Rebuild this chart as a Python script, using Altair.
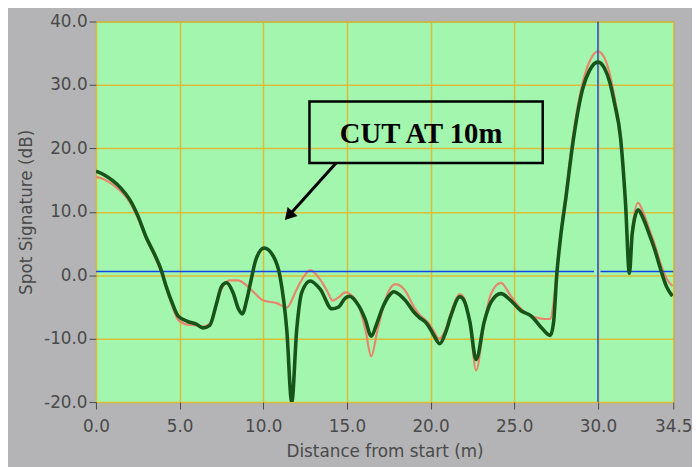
import altair as alt
import pandas as pd

# ---- data ----
x_dark = [0.0, 0.5, 1.0, 1.5, 2.0, 2.5, 3.0, 3.5, 3.9, 4.2, 4.5, 4.9, 5.5, 6.0, 6.4, 6.8,
          7.2, 7.5, 7.8, 8.2, 8.5, 8.75, 9.0, 9.25, 9.55, 10.05, 10.6, 11.0, 11.4, 11.7,
          12.0, 12.3, 12.8, 13.4, 14.1, 14.5, 14.9, 15.15, 15.7, 16.1, 16.45, 16.8, 17.1,
          17.5, 17.8, 18.2, 18.5, 19.0, 19.3, 19.8, 20.2, 20.55, 20.9, 21.2, 21.75, 22.0,
          22.35, 22.72, 23.2, 23.6, 24.2, 24.8, 25.4, 26.0, 26.6, 27.15, 27.35, 27.55,
          27.75, 28.1, 28.5, 29.1, 29.5, 30.0, 30.4, 30.7, 31.0, 31.35, 31.65, 31.88,
          32.05, 32.4, 32.7, 33.05, 33.4, 33.75, 34.1, 34.45]
y_dark = [16.4, 15.8, 14.9, 13.7, 12.0, 9.4, 6.0, 3.3, 0.8, -1.8, -4.0, -6.4, -7.3, -7.7,
          -8.3, -7.9, -4.5, -1.8, -1.2, -2.8, -5.2, -6.1, -4.0, -1.0, 2.4, 4.3, 3.0, -0.2,
          -8.5, -20.0, -8.5, -2.7, -0.9, -2.2, -5.3, -5.0, -3.6, -3.3, -4.8, -7.0, -9.6,
          -7.5, -5.3, -3.3, -2.6, -3.2, -4.0, -5.8, -6.6, -7.7, -9.5, -10.8, -9.0, -6.5,
          -3.4, -4.0, -7.4, -13.3, -7.4, -4.3, -2.9, -4.0, -5.6, -6.4, -8.2, -9.5, -7.4,
          0.4, 5.6, 12.5, 20.8, 29.5, 32.3, 33.6, 32.6, 30.5, 27.0, 21.7, 11.3, 0.3, 6.6,
          10.3, 9.0, 6.6, 4.0, 0.9, -1.8, -3.3]

x_red = [0.0, 0.5, 1.0, 1.5, 2.0, 2.5, 3.0, 3.5, 3.9, 4.2, 4.5, 4.9, 5.5, 6.0, 6.4, 6.8,
         7.2, 7.5, 8.0, 8.5, 9.0, 9.4, 10.0, 10.8, 11.4, 12.0, 12.4, 12.8, 13.4, 13.8,
         14.15, 14.5, 14.9, 15.15, 15.7, 16.1, 16.45, 16.8, 17.1, 17.5, 17.9, 18.5, 19.0,
         19.3, 19.8, 20.2, 20.5, 20.9, 21.2, 21.75, 22.0, 22.35, 22.72, 23.2, 23.6, 24.2,
         24.8, 25.4, 26.2, 26.8, 27.15, 27.35, 27.55, 27.75, 28.1, 28.5, 29.1, 29.5, 30.0,
         30.4, 30.7, 31.0, 31.35, 31.65, 31.88, 32.05, 32.4, 32.7, 33.05, 33.4, 33.75,
         34.1, 34.45]
y_red = [15.5, 15.1, 14.3, 13.2, 11.6, 9.0, 5.8, 3.0, 0.5, -2.0, -4.4, -7.0, -7.8, -7.9,
         -8.1, -7.6, -4.8, -2.2, -0.8, -0.8, -1.6, -2.6, -4.0, -4.4, -5.1, -2.2, -0.3, 0.8,
         -0.7, -2.4, -4.0, -3.5, -2.7, -2.9, -4.8, -8.5, -12.8, -9.0, -5.7, -2.5, -1.4,
         -2.5, -5.0, -6.1, -7.3, -8.8, -10.0, -8.5, -6.0, -3.0, -3.6, -7.6, -15.0, -7.6,
         -3.0, -1.2, -3.3, -5.3, -6.6, -6.9, -6.9, -4.3, 1.0, 6.0, 13.3, 21.8, 30.5, 33.7,
         35.3, 34.2, 31.8, 28.0, 22.3, 11.8, 0.6, 7.2, 11.4, 10.0, 7.4, 4.8, 1.8, -0.5, -1.7]

x_ticks = [0.0, 5.0, 10.0, 15.0, 20.0, 25.0, 30.0, 34.5]
y_ticks = [-20.0, -10.0, 0.0, 10.0, 20.0, 30.0, 40.0]

cursor_x = 30.0
cursor_y = 0.6
cursor_gap = [29.77, 30.15]

box_x = [12.76, 26.7]
box_y = [17.7, 27.4]
note_text = ["CUT AT 10m"]
note_pos = [19.43, 20.9]
arrow_from = [14.35, 17.7]
arrow_to = [11.52, 9.38]

# ---- tables ----
df_dark = pd.DataFrame({"x": x_dark, "y": y_dark})
df_red = pd.DataFrame({"x": x_red, "y": y_red})
df_vcur = pd.DataFrame({"x": [cursor_x]})
df_hcur = pd.DataFrame({"x": [0.0, cursor_gap[1]], "x2": [cursor_gap[0], 34.5],
                        "y": [cursor_y, cursor_y]})
df_box = pd.DataFrame({"x": [box_x[0]], "x2": [box_x[1]], "y": [box_y[0]], "y2": [box_y[1]]})
df_text = pd.DataFrame({"x": [note_pos[0]], "y": [note_pos[1]], "t": note_text})
df_arrow = pd.DataFrame({"x": [arrow_from[0]], "y": [arrow_from[1]],
                         "x2": [arrow_to[0]], "y2": [arrow_to[1]]})
df_head = pd.DataFrame({"x": [arrow_to[0]], "y": [arrow_to[1]]})

xs = alt.Scale(domain=[0, 34.5], nice=False, zero=False)
ys = alt.Scale(domain=[-20, 40], nice=False, zero=False)

TXT = "#4a4a4a"
FONT = "DejaVu Sans"
GRID = "#dcbc38"
BLUE = "#1244ee"
HYPHEN = "replace(datum.label, '\u2212', '-')"

x_axis = alt.Axis(values=x_ticks, format=".1f", title="Distance from start (m)",
                  grid=True, gridColor=GRID, gridWidth=1.5, domain=False,
                  labelFlush=False, labelFont=FONT, labelFontSize=17, labelColor=TXT,
                  tickColor=TXT, tickSize=7, labelPadding=10,
                  titleFont=FONT, titleFontSize=17, titleFontWeight="normal",
                  titleColor=TXT, titlePadding=9)
y_axis = alt.Axis(values=y_ticks, format=".1f", title="Spot Signature (dB)",
                  labelExpr=HYPHEN,
                  grid=True, gridColor=GRID, gridWidth=1.5, domain=False,
                  labelFont=FONT, labelFontSize=17, labelColor=TXT,
                  tickColor=TXT, tickSize=7, labelPadding=2,
                  titleFont=FONT, titleFontSize=17, titleFontWeight="normal",
                  titleColor=TXT, titlePadding=8)


def X():
    return alt.X("x:Q", scale=xs, axis=x_axis)


def Y():
    return alt.Y("y:Q", scale=ys, axis=y_axis)


red = alt.Chart(df_red).mark_line(color="#e8866c", strokeWidth=2.2,
                                  interpolate="monotone", clip=True).encode(x=X(), y=Y())

dark = alt.Chart(df_dark).mark_line(color="#17541a", strokeWidth=3.6,
                                    interpolate="monotone", clip=True).encode(x=X(), y=Y())

vcur = alt.Chart(df_vcur).mark_rule(color=BLUE, strokeWidth=1.4).encode(x=X())

hcur = alt.Chart(df_hcur).mark_rule(color=BLUE, strokeWidth=1.6).encode(
    x=X(), x2="x2:Q", y=Y())

box = alt.Chart(df_box).mark_rect(fillOpacity=0, stroke="black", strokeWidth=2.5).encode(
    x=X(), x2="x2:Q", y=Y(), y2="y2:Q")

text = alt.Chart(df_text).mark_text(font="Liberation Serif", fontWeight="bold",
                                    fontSize=29, color="black", align="center",
                                    baseline="alphabetic").encode(x=X(), y=Y(), text="t:N")

arrow = alt.Chart(df_arrow).mark_rule(color="black", strokeWidth=3).encode(
    x=X(), x2="x2:Q", y=Y(), y2="y2:Q")

head = alt.Chart(df_head).mark_point(shape="triangle-up", size=180, filled=True,
                                     color="black", opacity=1, angle=222).encode(x=X(), y=Y())

chart = alt.layer(red, vcur, hcur, dark, box, text, arrow, head).properties(
    width=584, height=385,
    padding={"left": 89, "top": 11, "right": 19, "bottom": 63},
    autosize=alt.AutoSizeParams(type="none"),
    background="#b4b4b6",
).configure_view(fill="#a2f6ae", stroke="#5f7f62", strokeWidth=1)

chart.save("out.html", embed_options={"renderer": "svg", "actions": False})
